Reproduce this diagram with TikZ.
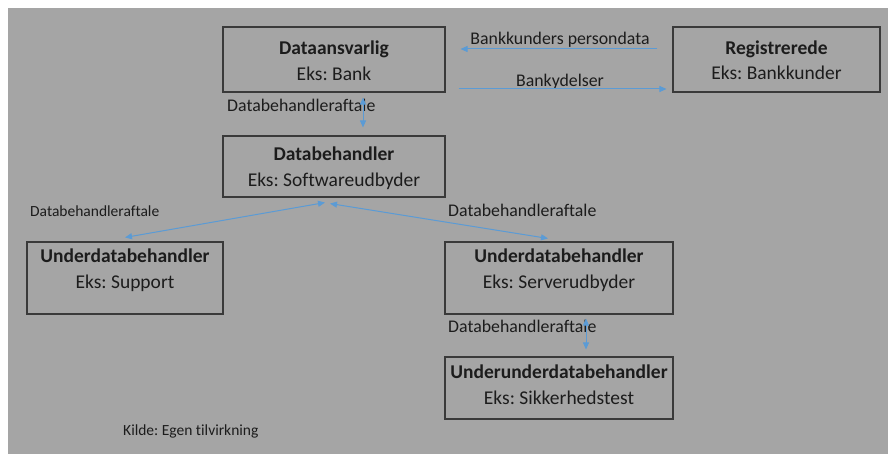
\documentclass[tikz,border=0pt]{standalone}
\usepackage{fontspec}
\setmainfont[Ligatures=NoCommon]{Carlito}
\usetikzlibrary{arrows.meta,calc}
\definecolor{bggrey}{HTML}{A5A5A5}
\definecolor{txt}{HTML}{1C1C1C}
\definecolor{boxline}{HTML}{3A3A3A}
\definecolor{arrowblue}{HTML}{5B9BD5}
\frenchspacing
\tikzset{
  x=1pt, y=-1pt,
  boxnode/.style={draw=boxline, line width=1.1pt, minimum width=#1, inner sep=0pt},
  boxtext/.style={text=txt, align=center, font=\fontsize{19.5}{25.5}\selectfont, inner sep=0pt},
  lbl/.style={text=txt, font=\fontsize{17.8}{20}\selectfont, inner sep=0pt},
  smalllbl/.style={text=txt, font=\fontsize{15.5}{18}\selectfont, inner sep=0pt},
  conn/.style={draw=arrowblue, line width=1pt, -{Triangle[length=7pt,width=6pt]}},
  dconn/.style={draw=arrowblue, line width=1pt, {Triangle[length=7pt,width=6pt]}-{Triangle[length=7pt,width=6pt]}},
}
\begin{document}
\begin{tikzpicture}
\useasboundingbox (0,0) rectangle (888,454);
\fill[white] (0,0) rectangle (888,454);
\fill[bggrey] (8,8) rectangle (888,454);

% boxes
\node[boxnode=222pt, minimum height=65pt] (da) at (334,59.5) {};
\node[boxnode=222pt, minimum height=61pt] (db) at (334,166.5) {};
\node[boxnode=207pt, minimum height=65pt] (reg) at (776.5,59.5) {};
\node[boxnode=196pt, minimum height=72pt] (sup) at (125,278) {};
\node[boxnode=228pt, minimum height=72pt] (srv) at (559,278) {};
\node[boxnode=228pt, minimum height=62pt] (uu) at (559,388) {};

% box texts
\node[boxtext] (dat) at (334,60.5) {\textbf{Dataansvarlig}\\Eks: Bank};
\node[boxtext] (dbt) at (334,168) {\textbf{Databehandler}\\Eks: Softwareudbyder};
\node[boxtext] (regt) at (776.5,60) {\textbf{Registrerede}\\Eks: Bankkunder};
\node[boxtext] (supt) at (125,270) {\textbf{Underdatabehandler}\\Eks: Support};
\node[boxtext] (srvt) at (559,270) {\textbf{Underdatabehandler}\\Eks: Serverudbyder};
\node[boxtext] (uut) at (559,384.5) {\textbf{Underunderdatabehandler}\\Eks: Sikkerhedstest};

% labels
\node[lbl] (l1) at (560,40) {Bankkunders persondata};
\node[lbl] (l2) at (560,82) {Bankydelser};
\node[lbl, anchor=west] (l3) at (227,105) {Databehandleraftale};
\node[smalllbl, anchor=west] (l4) at (30,211) {Databehandleraftale};
\node[lbl, anchor=west] (l5) at (448,210) {Databehandleraftale};
\node[lbl, anchor=west] (l6) at (448,326) {Databehandleraftale};
\node[smalllbl, anchor=west] (kilde) at (123,431) {Kilde: Egen tilvirkning};

% connectors (drawn over the labels)
\draw[conn] ($(reg.west)+(-15,-10.5)$) -- ($(da.east)+(15,-10.5)$);
\draw[conn] ($(da.east)+(13,29.5)$) -- ($(reg.west)+(-6,29.5)$);
\draw[dconn] ($(da.south)+(29,5)$) -- ($(db.north)+(29,-8)$);
\draw[dconn] ($(db.south)+(-9,5)$) -- ($(sup.north)+(0,-4)$);
\draw[dconn] ($(db.south)+(-4,6)$) -- ($(srv.north)+(-11,-3)$);
\draw[dconn] ($(srv.south)+(27,4)$) -- ($(uu.north)+(27,-7)$);
\end{tikzpicture}
\end{document}
